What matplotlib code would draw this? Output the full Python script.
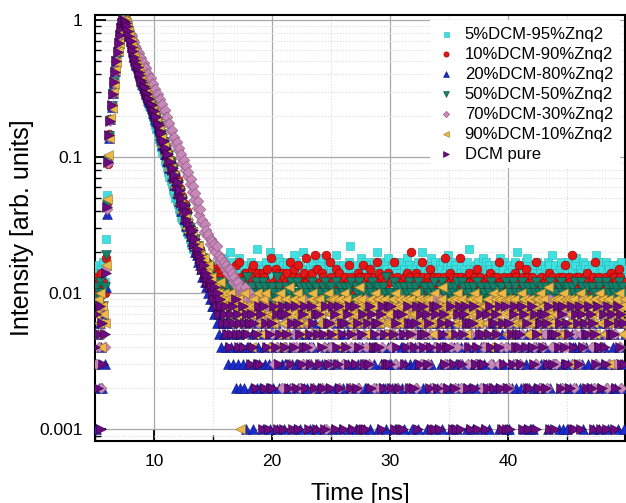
import numpy as np
import matplotlib.pyplot as plt
from matplotlib.ticker import MultipleLocator, FixedLocator, LogLocator, NullFormatter

plt.rcParams['font.family'] = ['Liberation Sans', 'DejaVu Sans']

# TCSPC channels: t = 5.0 ns + 0.1 ns * index
T0 = 5.0
DT = 0.1

# counts (per mille of peak).
# *_head: 5.0 ns onwards as ints, *_tail: continues in base-36, one char per channel,
# blocks of 10 chars = 1 ns.

c05_head = [14, 12, 16, 13, 11, 15, 13, 17, 12,
            25, 52, 98, 145, 190, 240, 296, 352, 425, 505, 596, 684, 785, 872, 948, 1000, 982, 940,
            880, 815, 760, 700, 640, 578, 524, 487, 452, 420, 398, 372, 352, 332, 316, 298, 283, 265, 252, 236,
            224, 208, 196, 181, 171, 158, 148, 134, 127, 117, 108, 102, 93, 89, 82, 77, 71, 66, 63, 57,
            54, 50, 47, 45, 41, 40, 36, 35, 33, 31, 30, 28, 27]
c05_tail = ("pnolmkjmik higfhegdfe efdgcehdfi dgeckfdhec fdigecfdge cehdfgdlec gdfechedkf dcgfeidheg "
            "ecfhdgcefj hdecgfkdec efgcdhefid dgicfedhgc fcedjgdfec gedfchmedf cfgdeifcdh edcgfdheck "
            "dfhecgdfie cegdfhecdg hdfciegdfe ecgdhfdkce fdegcidfhc degfchdegj cfhdegfdce gdcfehdlfd "
            "efdgchefdi dhecgfdecg fceidgfhdc edgfcehdkf cgdefhicde fedgchdfeg dfcehgdjce gedcfhedfd "
            "ehdgfcdgie cfedhgcefd dgefcjdhec fcdhegfdcg edfgcehdfc")

c10_head = [10, 13, 9, 12, 11, 14, 8, 12, 10,
            18, 46, 88, 147, 189, 231, 293, 347, 424, 497, 593, 677, 783, 866, 953, 1000, 993, 951,
            898, 842, 765, 712, 631, 598, 537, 518, 471, 459, 414, 401, 362, 355, 324, 318, 291, 289, 265, 266,
            241, 241, 216, 218, 195, 196, 173, 173, 150, 151, 130, 132, 112, 117, 100, 106, 89, 94, 79, 85,
            69, 75, 60, 67, 53, 59, 46, 51, 41, 45, 36, 40, 33]
c10_tail = ("tqrnoplmkl jhigfhegfd ecfdbegdac bdfcbeadcg cah9dbceeb adbfgacbed cbedbcfabi bacfdbecbe "
            "dbcebhcadf acgdacbeci cadbecjbfa bcedbcjach dacbfabecb cbdacgadcb abceddbgad cdbfcbdach "
            "becdbacbea dcahcadbcb acbdecbdkc cbedbcahdb badcfacdba cdabcbdicb aecdacbdbi dbcabdcecb "
            "cadbfadbcb bcadbecadc adhcbacdab cbdacbedcg bacdbfadbc dcbahbcadb acbdcebdca cbadbcadgc "
            "badcjbacdb dcabcdbecb acdbhcbdca cbadbcaebd bdcafdcacb")

c20_head = [3, 1, 5, 2, 6, 4, 2, 7, 3,
            11, 38, 97, 138, 188, 232, 292, 348, 423, 498, 592, 678, 782, 868, 952, 1000, 985, 952,
            896, 828, 768, 698, 633, 585, 536, 505, 468, 446, 409, 388, 358, 342, 319, 306, 286, 277, 259, 252,
            235, 228, 209, 205, 188, 183, 166, 160, 143, 139, 122, 120, 105, 105, 93, 94, 82, 83, 72, 74,
            62, 65, 54, 57, 47, 50, 40, 44, 35, 38, 31, 34, 29]
c20_tail = ("sqonmkjhig fdecbca9b8 8796857465 5463746352 4352432614 3425136243 2514362315 4236152437 "
            "1342526341 3625143265 2413546132 5236142453 3142635214 2564312436 4153264312 3241563425 "
            "1634252143 4325136254 2513462341 3462153624 5134236415 2643152436 3215463127 4352614253 "
            "1436253412 3524162345 2613453621 4152364235 3264135421 5123462534 2436152643 3541263125 "
            "1362543426 4253164235 2614352146 3452613524 5231462315")

c50_head = [9, 11, 8, 10, 12, 9, 10, 8, 11,
            19, 44, 93, 142, 183, 236, 288, 351, 418, 502, 588, 682, 778, 871, 948, 1000, 989, 956,
            902, 838, 770, 705, 638, 592, 543, 512, 478, 452, 420, 395, 368, 349, 329, 313, 296, 285, 270, 260,
            246, 236, 221, 213, 200, 191, 178, 168, 155, 146, 134, 127, 116, 112, 104, 101, 93, 89, 82, 80,
            72, 70, 63, 62, 55, 54, 48, 47, 43, 41, 37, 36, 32]
c50_tail = ("uqsonplmkj higfegdecd b9ac8ba9c9 a8b9cab89a 9ba8c9ab9d 8a9ba9c8ab a9c8b9a9b8 b8a9d9ba89 "
            "9ab8a9cb9a 8c9ab9a8b9 a9b8ca9b9a 9a8b9ca9b8 b9a9c8a9ba a8b9ab9c89 9ba8c9ab8a 8a9bac98ba "
            "b9a8b9ad9a 9a8cb9a9b8 a9b9a8cba9 8ba9c9a8b9 b9a8ab9ca8 9ab8c9a9ba a8b9ab8c9a 9cb8a9ba89 "
            "b9a9c8ab9a a8b9a9cb89 9ab8b9a9ca b9a8c9ba98 a9cb8a9b9a 8b9ac9a8b9 a9b8a9cba8 9a8b9ca9b8 "
            "b9a9b8ac9a a8cb9a9b89 9ba8a9cb9a 8a9cb9a8ba a9b8c9ab9a")

c70_head = [5, 3, 7, 4, 6, 2, 8, 5, 4,
            15, 41, 90, 139, 186, 233, 291, 349, 421, 501, 591, 681, 779, 869, 951, 1000, 991, 962,
            930, 884, 851, 796, 766, 718, 697, 648, 628, 588, 577, 538, 526, 493, 484, 451, 443, 410, 406, 376,
            374, 344, 342, 312, 314, 288, 290, 264, 266, 240, 243, 217, 220, 194, 196, 174, 176, 154, 157, 138,
            140, 124, 128, 111, 115, 99, 104, 89, 95, 80, 86, 72, 77, 63, 69, 55, 61, 48, 54, 42,
            47, 37, 41]
c70_tail = ("xyswtqrnpo lnkmijhigh fgeffdecdc bcabaa9ba9 8a98979868 7869576847 5736485927 6475386245 "
            "4857263946 7364528573 5827461384 6453975268 3748526475 8562473659 4736582946 5284637572 "
            "7456382659 3865274846 6527483567 4738562948 5692476358 7345826473 2856473685 6473958264 "
            "4586273957 5739462845 8264573648 3657482965 6845376254 4572689436 7364852749 5847362586 "
            "3659487265 6472538947 4856273658 7538642965")

c90_head = [7, 5, 9, 6, 10, 4, 8, 7, 6,
            16, 49, 102, 136, 192, 229, 297, 343, 428, 495, 597, 675, 786, 864, 955, 1000, 980, 948,
            888, 826, 760, 695, 628, 582, 530, 502, 462, 443, 405, 386, 354, 340, 316, 305, 283, 276, 256, 251,
            232, 227, 207, 204, 186, 182, 164, 159, 141, 138, 120, 119, 103, 104, 91, 93, 80, 82, 70, 73,
            60, 64, 52, 56, 45, 49, 39, 43, 34, 37, 30, 33, 28]
c90_tail = ("tqsnolkmij hgifdegcdb a9b8a7c98a 8796a87968 796185a786 6847958a67 8596a74867 7689584a76 "
            "5978b68796 8a67958768 6879a57896 9768586a79 7596874968 8a79658786 6978b96785 7869487a69 "
            "9678596876 5896a78697 8769586978 7a86975689 6897685a76 8769b87658 7598697a86 9687568979 "
            "6a78965878 8697485a69 7869a86795 5978697886 8a69875697 6789596a78 9678b76859 7896585a96 "
            "8697396878 6a89786957 7869587a69 9576893687 8697a68597")

dcm_head = [4, 7, 2, 5, 8, 1, 6, 3, 5,
            14, 43, 92, 143, 181, 238, 286, 354, 417, 503, 586, 684, 776, 873, 946, 1000, 987, 958,
            905, 835, 772, 708, 636, 594, 541, 515, 476, 455, 418, 398, 366, 352, 327, 316, 294, 288, 268, 263,
            244, 239, 219, 216, 198, 194, 176, 171, 153, 149, 132, 130, 114, 115, 102, 104, 91, 92, 80, 83,
            70, 73, 61, 65, 53, 57, 46, 50, 41, 44, 35, 39, 33]
dcm_tail = ("vsqtnpklji hfgdecdbcb a9b8a79867 7856475869 5746584657 5637462538 3718264152 6284713578 "
            "1475283614 8261537482 4153862715 7342518636 2587143826 5164738251 8326415713 1638274564 "
            "6471825338 3825164721 7153486256 2468137584 5736241817 8214657342 4681325178 1357862461 "
            "6823415735 3172584626 7548216381 2615378454 5381746212 8437152667 4726381535 1584627843 "
            "6352814176 3817465258 7261538441 2743186575 5128647363")

labels = ['5%DCM-95%Znq2', '10%DCM-90%Znq2', '20%DCM-80%Znq2', '50%DCM-50%Znq2',
          '70%DCM-30%Znq2', '90%DCM-10%Znq2', 'DCM pure']
heads = [c05_head, c10_head, c20_head, c50_head, c70_head, c90_head, dcm_head]
tails = [c05_tail, c10_tail, c20_tail, c50_tail, c70_tail, c90_tail, dcm_tail]

colors = ['#3fe0e0', '#e41616', '#1a2ccc', '#17806a', '#c888b8', '#ecb84a', '#6c0a80']
edges = ['#28b4b4', '#8a0000', '#0a1470', '#0a4a3a', '#8a5a80', '#9a7020', '#300040']
markers = ['s', 'o', '^', 'v', 'D', '<', '>']
sizes = [36, 40, 50, 50, 30, 50, 50]


def counts(head, tail):
    tail = tail.replace(' ', '')
    return np.array(list(head) + [int(ch, 36) for ch in tail], dtype=float)


fig = plt.figure(figsize=(6.26, 5.03), dpi=100)
ax = fig.add_axes([0.152, 0.123, 0.846, 0.847])

for lab, h, tl, col, ec, mk, sz in zip(labels, heads, tails, colors, edges, markers, sizes):
    c = counts(h, tl)
    t = T0 + DT * np.arange(len(c))
    y = c / c.max()
    keep = y > 0
    ax.scatter(t[keep], y[keep], marker=mk, s=sz, c=col, edgecolors=ec,
               linewidths=0.4, label=lab, zorder=3)

ax.set_yscale('log')
ax.set_xlim(5.0, 49.9)
ax.set_ylim(8.2e-4, 1.09)

ax.xaxis.set_major_locator(FixedLocator([10, 20, 30, 40]))
ax.xaxis.set_minor_locator(MultipleLocator(5))
ax.yaxis.set_major_locator(FixedLocator([0.001, 0.01, 0.1, 1]))
ax.set_yticklabels(['0.001', '0.01', '0.1', '1'])
ax.yaxis.set_minor_locator(LogLocator(base=10, subs=np.arange(2, 10)))
ax.yaxis.set_minor_formatter(NullFormatter())

ax.tick_params(which='both', direction='in', top=False, right=False, labelsize=12.5, pad=9)
ax.tick_params(which='major', length=8, width=1.3)
ax.tick_params(which='minor', length=4, width=1.0)

ax.set_axisbelow(True)
ax.grid(which='major', color='#a8a8a8', linewidth=0.9)
ax.grid(which='minor', color='#dadada', linestyle=':', linewidth=0.8)

for s in ax.spines.values():
    s.set_linewidth(1.5)

ax.set_xlabel('Time [ns]', fontsize=17.5, labelpad=10)
ax.set_ylabel('Intensity [arb. units]', fontsize=18, labelpad=4)

leg = ax.legend(loc='upper right', fontsize=12, markerscale=0.6, scatterpoints=1,
                frameon=True, fancybox=False, framealpha=1, facecolor='white',
                edgecolor='none', labelspacing=0.3, handletextpad=0.5,
                borderaxespad=0.3, handlelength=1.2)

fig.savefig('out.png', dpi=100)
